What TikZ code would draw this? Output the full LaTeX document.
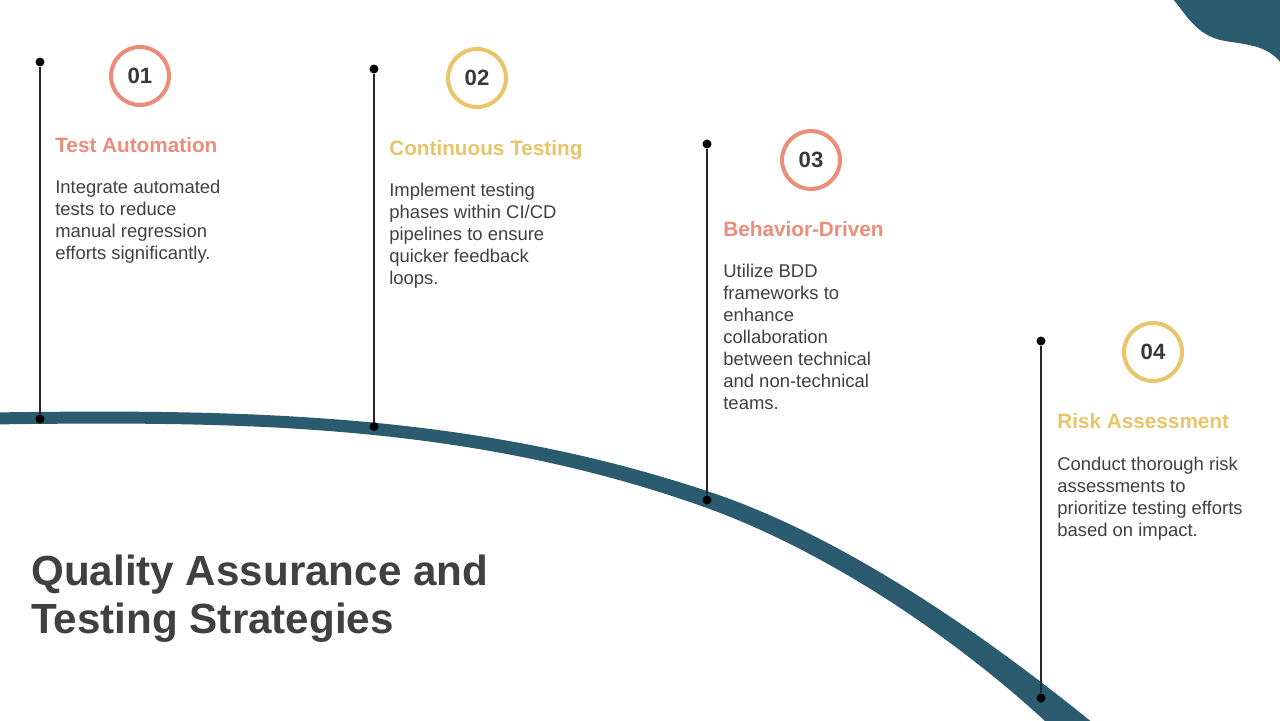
\documentclass[tikz,border=0pt]{standalone}
\usepackage{fontspec}
\setmainfont{Liberation Sans}
\usetikzlibrary{positioning}
\definecolor{salmon}{HTML}{EC8D7A}
\definecolor{mustard}{HTML}{E8C46A}
\definecolor{bandblue}{HTML}{2B5B6E}
\definecolor{inkgray}{HTML}{404040}
\definecolor{numgray}{HTML}{383838}
\tikzset{
  ring/.style      = {circle, draw, line width=0.08cm, minimum size=1.16cm, inner sep=0pt,
                      text=numgray, font=\fontsize{12.6}{14}\selectfont\bfseries},
  heading/.style   = {anchor=base west, inner sep=0pt, font=\fontsize{11.8}{14}\selectfont\bfseries},
  bodytext/.style  = {anchor=north west, align=left, inner sep=0pt, text=inkgray,
                      font=\fontsize{10.5}{12.5}\selectfont},
  bigtitle/.style  = {anchor=north west, align=left, inner sep=0pt, text=inkgray,
                      font=\fontsize{24}{27.2}\selectfont\bfseries},
  bead/.style      = {circle, fill=black, minimum size=0.18cm, inner sep=0pt},
  stem/.style      = {line width=1.1pt, draw=black!85}
}
\begin{document}
\begin{tikzpicture}[x=0.02cm, y=-0.02cm]
    \useasboundingbox (0,0) rectangle (1280,720);
    \clip (0,0) rectangle (1280,720);

    % corner shape and the sweeping band
    \fill[bandblue] (1172,-2) .. controls (1185,12) and (1195,36) .. (1225,41)
        .. controls (1250,45) and (1270,46) .. (1283,66) -- (1283,-2) -- cycle;
    \fill[bandblue] (-10,412.5) .. controls (240,409) and (470,412) .. (707,491)
        .. controls (850,538) and (1000,646) .. (1110,737) -- (1110,745) -- (1070,745)
        .. controls (990,665) and (850,560) .. (707,508)
        .. controls (470,423) and (240,421) .. (-10,424.5) -- cycle;

    % stems with end beads
    \node[bead] (t1) at (40,62) {};
    \node[bead] (b1) at (40,419) {};
    \node[bead] (t2) at (374,69) {};
    \node[bead] (b2) at (374,426.5) {};
    \node[bead] (t3) at (707,144) {};
    \node[bead] (b3) at (707,500) {};
    \node[bead] (t4) at (1041,341) {};
    \node[bead] (b4) at (1041,698) {};
    \draw[stem] (t1) -- (b1);
    \draw[stem] (t2) -- (b2);
    \draw[stem] (t3) -- (b3);
    \draw[stem] (t4) -- (b4);

    % step 01
    \node[ring, draw=salmon] (n1) at (140,76) {01};
    \node[heading, text=salmon] (h1) at (55,152) {Test Automation};
    \node[bodytext] (d1) at (55,180) {Integrate automated\\ tests to reduce\\ manual regression\\ efforts significantly.};

    % step 02
    \node[ring, draw=mustard] (n2) at (477,78) {02};
    \node[heading, text=mustard] (h2) at (389,155) {Continuous Testing};
    \node[bodytext] (d2) at (389,183) {Implement testing\\ phases within CI/CD\\ pipelines to ensure\\ quicker feedback\\ loops.};

    % step 03
    \node[ring, draw=salmon] (n3) at (811,160) {03};
    \node[heading, text=salmon] (h3) at (723,236) {Behavior-Driven};
    \node[bodytext] (d3) at (723,264) {Utilize BDD\\ frameworks to\\ enhance\\ collaboration\\ between technical\\ and non-technical\\ teams.};

    % step 04
    \node[ring, draw=mustard] (n4) at (1153,352) {04};
    \node[heading, text=mustard] (h4) at (1057,428) {Risk Assessment};
    \node[bodytext] (d4) at (1057,457) {Conduct thorough risk\\ assessments to\\ prioritize testing efforts\\ based on impact.};

    \node[bigtitle] (title) at (31,555) {Quality Assurance and\\ Testing Strategies};
\end{tikzpicture}
\end{document}
